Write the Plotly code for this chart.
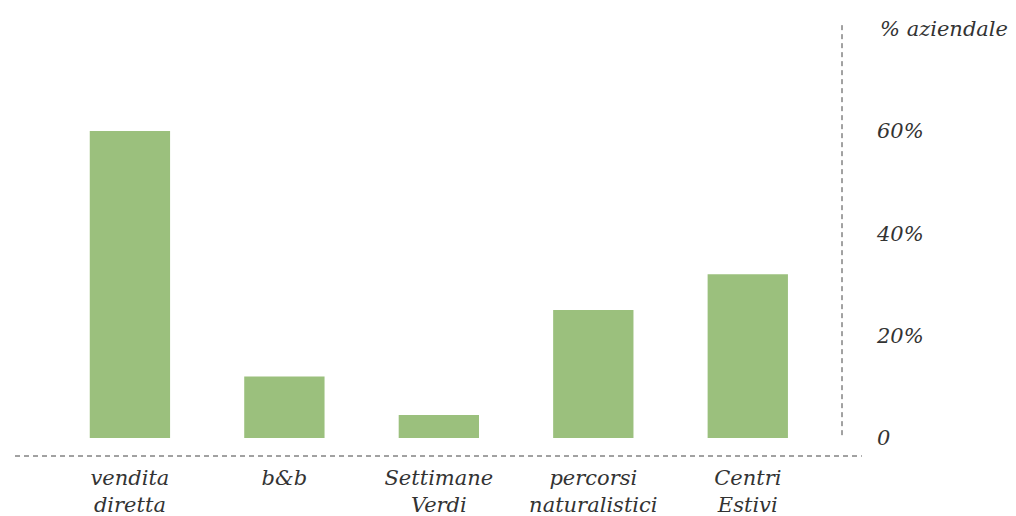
import plotly.graph_objects as go

categories = ["vendita<br>diretta", "b&b", "Settimane<br>Verdi", "percorsi<br>naturalistici", "Centri<br>Estivi"]
values = [60, 12, 4.5, 25, 32]
tick_vals = [0, 20, 40, 60]
tick_text = ["0", "20%", "40%", "60%"]

FONT = "DejaVu Serif"
TXT = "#333333"

fig = go.Figure()
fig.add_trace(go.Bar(
    x=list(range(len(categories))), y=values,
    marker=dict(color="#9BC07D", line=dict(width=0)),
    width=0.52,
))

fig.update_layout(
    width=1016, height=516,
    margin=dict(l=7, r=182, t=14, b=68),
    paper_bgcolor="white", plot_bgcolor="white",
    showlegend=False,
    font=dict(family=FONT, color=TXT, size=18),
    xaxis=dict(
        range=[-0.744, 4.61],
        tickmode="array", tickvals=list(range(len(categories))), ticktext=categories,
        showgrid=False, zeroline=False, showline=False, ticks="",
        tickfont=dict(family=FONT, size=21, color=TXT, style="italic"),
        ticklabelstandoff=7,
    ),
    yaxis=dict(
        range=[-3.52, 81.3], side="right",
        tickmode="array", tickvals=tick_vals, ticktext=tick_text,
        showgrid=False, zeroline=False, showline=False, ticks="",
        tickfont=dict(family=FONT, size=21, color=TXT, style="italic"),
        ticklabelstandoff=34,
    ),
    shapes=[
        dict(type="line", xref="paper", yref="paper", x0=0, x1=1.024, y0=0, y1=0,
             line=dict(color="#444444", width=1, dash="5px,4px")),
        dict(type="line", xref="paper", yref="paper", x0=1, x1=1, y0=0.048, y1=1,
             line=dict(color="#444444", width=1, dash="5px,4px")),
    ],
    annotations=[
        dict(text="% aziendale", xref="paper", yref="paper", x=1.044, y=0.985,
             xanchor="left", yanchor="middle", showarrow=False,
             font=dict(family=FONT, size=21, color=TXT, style="italic")),
    ],
)

fig.write_html("out.html")
